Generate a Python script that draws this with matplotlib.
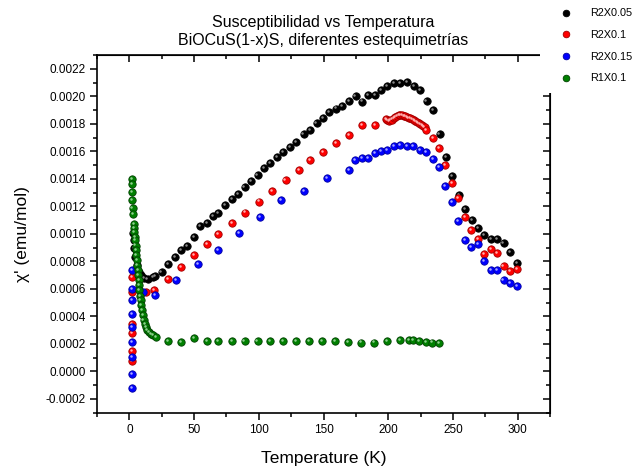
import numpy as np
import matplotlib.pyplot as plt
from matplotlib.patches import Rectangle
from matplotlib.transforms import offset_copy
from matplotlib.ticker import MultipleLocator, FormatStrFormatter

plt.rcParams['font.family'] = ['Liberation Sans', 'DejaVu Sans']

# R2X0.05 (T in K, chi' in 1e-4 emu/mol)
t_005 = [2.5, 3.3, 3.9, 4.6, 5.6, 7.2, 9.0, 11.6, 14.1, 18.0, 20.0, 24.9, 30.0, 35.2,
         39.8, 44.9, 50.1, 54.7, 59.9, 64.9, 68.8, 74, 79, 84, 89, 94, 99, 104, 109,
         114, 119, 124, 129, 134.6, 139.7, 144.6, 149.5, 154.6, 159.5, 164.3, 169.5,
         174.7, 179.5, 184.4, 189.5, 194.4, 199.3, 204.4, 209.3, 214.4, 219.8, 224.7,
         229.6, 234.7, 239.6, 244.8, 249.6, 254.5, 259.4, 264.5, 269.4, 274.3, 279.4,
         284.1, 289.1, 294.3, 299.2]
chi_005 = [10.06, 9.53, 9.00, 8.31, 7.71, 7.22, 6.98, 6.81, 6.74, 6.86, 6.93, 7.25, 7.80,
           8.29, 8.85, 9.14, 9.80, 10.57, 10.76, 11.27, 11.54, 12.07, 12.51, 12.87, 13.38,
           13.82, 14.25, 14.76, 15.13, 15.56, 15.93, 16.29, 16.66, 17.29, 17.53, 18.09,
           18.45, 18.89, 19.11, 19.30, 19.69, 20.02, 19.62, 20.12, 20.12, 20.49, 20.78,
           21.00, 20.97, 21.04, 20.73, 20.44, 19.66, 19.00, 17.24, 15.56, 14.20, 12.85,
           11.80, 11.00, 10.40, 9.91, 9.65, 9.62, 9.31, 8.71, 7.91]

# R2X0.1
t_01 = [1.8, 1.8, 1.8, 1.8, 1.8, 1.8, 12.8, 19.3, 30.0, 39.8, 50.0, 59.8, 68.8, 79.2,
        89.6, 100.0, 110.3, 120.7, 131.0, 139.4, 149.5, 159.5, 169.5, 179.5, 189.5,
        198.2, 199.2, 200.3, 201.6, 202.9, 204.2, 205.5, 206.8, 208.0, 209.3, 210.6,
        211.9, 213.2, 214.4, 215.7, 217.0, 218.3, 219.6, 220.9, 222.1, 223.4, 224.7,
        226.0, 227.0, 228.0, 229.4, 234.4, 239.4, 244.2, 249.1, 254.2, 259.1, 264.3,
        269.1, 274.0, 279.1, 284.1, 289.1, 294.3, 299.2]
chi_01 = [6.86, 5.77, 3.47, 2.81, 1.48, 0.73, 5.77, 5.89, 6.69, 7.59, 8.49, 9.29, 10.01,
          10.80, 11.55, 12.35, 13.10, 13.90, 14.67, 15.35, 15.95, 16.63, 17.16, 17.89,
          17.94, 18.38, 18.30, 18.20, 18.25, 18.31, 18.40, 18.50, 18.56, 18.62, 18.64,
          18.65, 18.60, 18.55, 18.50, 18.45, 18.42, 18.38, 18.29, 18.20, 18.13, 18.06,
          17.98, 17.91, 17.84, 17.77, 17.53, 16.97, 16.27, 15.03, 13.72, 12.63, 11.22,
          10.31, 9.65, 8.51, 8.92, 8.60, 7.64, 7.32, 7.47]

# R2X0.15
t_015 = [1.8, 1.8, 1.8, 1.8, 1.8, 1.8, 1.8, 1.8, 1.8, 10.2, 20.0, 36.4, 53.2, 68.8,
         84.7, 100.9, 117.1, 135.0, 152.8, 169.5, 174.3, 179.5, 184.4, 189.5, 194.4,
         199.3, 204.4, 209.3, 214.4, 219.3, 224.4, 229.4, 234.4, 239.2, 244.0, 249.1,
         254.2, 259.1, 264.3, 269.1, 274.0, 279.1, 284.1, 289.1, 294.3, 299.2]
chi_015 = [7.40, 6.01, 5.16, 4.20, 3.22, 2.13, 1.04, -0.17, -1.21, 5.77, 5.53, 6.62,
           7.83, 8.80, 10.04, 11.20, 12.44, 13.10, 14.09, 14.67, 15.40, 15.54, 15.51,
           15.88, 16.00, 16.07, 16.36, 16.44, 16.36, 16.36, 16.07, 15.93, 15.44, 14.86,
           13.51, 12.29, 10.91, 9.58, 9.07, 9.29, 8.00, 7.37, 7.40, 6.62, 6.42, 6.20]

# R1X0.1
t_r1 = [2.0, 2.0, 2.0, 2.3, 2.5, 2.9, 3.3, 3.6, 3.9, 4.1, 4.4, 4.8, 5.2, 5.5, 5.9, 6.3,
        6.7, 7.0, 7.2, 7.5, 7.7, 8.2, 8.7, 9.2, 9.8, 10.4, 11.0, 11.8, 12.8, 14.0, 15.4,
        16.9, 18.5, 20.5, 30.0, 39.8, 50.0, 59.8, 68.8, 79, 89, 99, 109, 119, 129, 139,
        149, 159, 169, 179, 189, 199, 209, 216, 219, 224, 229, 234, 239]
chi_r1 = [13.96, 13.60, 13.04, 12.49, 11.90, 11.42, 10.74, 10.40, 10.13, 9.80, 9.53,
          9.15, 8.80, 8.45, 8.07, 7.70, 7.35, 7.00, 6.62, 6.25, 5.89, 5.50, 5.16, 4.80,
          4.44, 4.08, 3.71, 3.45, 3.22, 3.03, 2.86, 2.73, 2.62, 2.50, 2.20, 2.13, 2.42,
          2.23, 2.18, 2.20, 2.20, 2.20, 2.22, 2.20, 2.22, 2.20, 2.20, 2.20, 2.15, 2.10,
          2.10, 2.20, 2.25, 2.30, 2.25, 2.20, 2.15, 2.10, 2.05]

fig = plt.figure(figsize=(6.33, 4.67), dpi=100)
ax = fig.add_axes([0.1532, 0.1163, 0.7158, 0.7657])

# small highlight spot on each ball marker
shine = offset_copy(ax.transData, fig=fig, x=-0.8, y=0.8, units='points')

series = [(t_005, chi_005, 'black', '#000000', '#8a8a8a', 'R2X0.05'),
          (t_01, chi_01, 'red', '#a00000', '#ffb0b0', 'R2X0.1'),
          (t_015, chi_015, 'blue', '#0000a0', '#a8a8ff', 'R2X0.15'),
          (t_r1, chi_r1, 'green', '#004000', '#8fcf8f', 'R1X0.1')]
handles = []
for t, c, col, edge, light, lab in series:
    y = np.array(c) * 1e-4
    h, = ax.plot(t, y, 'o', ms=5.3, color=col, mec=edge, mew=0.6, label=lab)
    ax.plot(t, y, 'o', ms=1.8, color=light, mew=0, transform=shine)
    handles.append(h)

ax.set_xlim(-25, 325)
ax.set_ylim(-0.0003, 0.0023)
ax.xaxis.set_major_locator(MultipleLocator(50))
ax.xaxis.set_minor_locator(MultipleLocator(25))
ax.yaxis.set_major_locator(MultipleLocator(0.0002))
ax.yaxis.set_minor_locator(MultipleLocator(0.0001))
ax.yaxis.set_major_formatter(FormatStrFormatter('%.4f'))
ax.tick_params(which='both', direction='out', width=1.1, labelsize=8.5, pad=3)
ax.tick_params(which='major', length=5)
ax.tick_params(which='minor', length=3)
for s in ax.spines.values():
    s.set_linewidth(1.2)

# top and right axes with inward ticks, no labels
top = ax.secondary_xaxis('top')
top.xaxis.set_major_locator(MultipleLocator(50))
top.xaxis.set_minor_locator(MultipleLocator(25))
top.tick_params(which='both', direction='in', width=1.1, labeltop=False)
top.tick_params(which='major', length=5)
top.tick_params(which='minor', length=3)
right = ax.secondary_yaxis('right')
right.yaxis.set_major_locator(MultipleLocator(0.0002))
right.yaxis.set_minor_locator(MultipleLocator(0.0001))
right.tick_params(which='both', direction='in', width=1.1, labelright=False)
right.tick_params(which='major', length=5)
right.tick_params(which='minor', length=3)

ax.set_xlabel('Temperature (K)', fontsize=12.5, labelpad=11)
ax.set_ylabel("χ' (emu/mol)", fontsize=12.5, labelpad=11)
ax.set_title('Susceptibilidad vs Temperatura\nBiOCuS(1-x)S, diferentes estequimetrías',
             fontsize=11.5, pad=7, linespacing=1.3)

# white legend block over the top-right corner
fig.add_artist(Rectangle((540 / 633, 0.801), 1, 0.2, transform=fig.transFigure,
                         facecolor='white', edgecolor='none', zorder=3))
fig.legend(handles=handles, loc='upper left', bbox_to_anchor=(553 / 633, 0.996),
           frameon=False, fontsize=7.8, handlelength=1.2, handletextpad=1.6,
           labelspacing=1.08, markerscale=0.9, borderaxespad=0.2)

fig.savefig('out.png', dpi=100)
